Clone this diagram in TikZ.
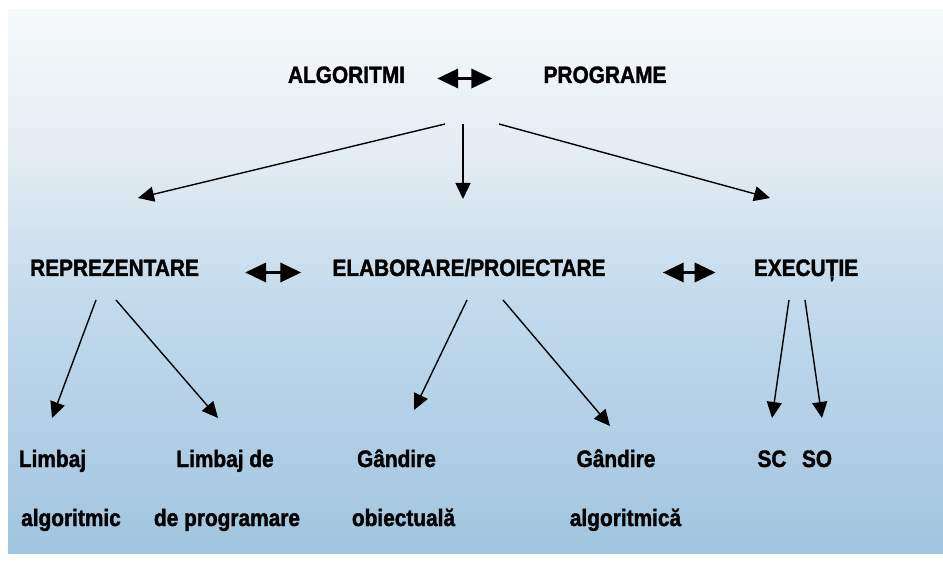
\documentclass[tikz,border=0pt]{standalone}
\usepackage{fontspec}
\setmainfont{Liberation Sans}[FakeStretch=0.88, BoldFeatures={FakeBold=1.5}]
\usetikzlibrary{arrows.meta}
\definecolor{bgA}{HTML}{F6F9FA}
\definecolor{bgB}{HTML}{E4EDF3}
\definecolor{bgC}{HTML}{C3DAEC}
\definecolor{bgD}{HTML}{A0C5DF}
\begin{document}
\begin{tikzpicture}[x=1pt,y=-1pt,
  lbl/.style={anchor=base, inner sep=0pt, font=\fontsize{23.7}{28}\selectfont\bfseries},
  arr/.style={line width=1.4pt, -{Triangle[length=16pt 0 0,width=15pt 0 0]}},
  dbl/.style={line width=3.5pt, {Triangle[length=21pt 0 0,width=19pt 0 0]}-{Triangle[length=21pt 0 0,width=19pt 0 0]}}]
\useasboundingbox (0,0) rectangle (943,561);
\fill[white] (0,0) rectangle (943,561);
% background gradient
\shade[top color=bgA, bottom color=bgB] (8,10) rectangle (943,150.5);
\shade[top color=bgB, bottom color=bgC] (8,150) rectangle (943,300.5);
\shade[top color=bgC, bottom color=bgD] (8,300) rectangle (943,553);

% row 1
\node[lbl] (alg) at (346.5,83) {ALGORITMI};
\node[lbl] (prog) at (605,83) {PROGRAME};
% row 2
\node[lbl] (rep) at (114.5,276) {REPREZENTARE};
\node[lbl] (ela) at (469,276) {ELABORARE/PROIECTARE};
\node[lbl] (exe) at (806,276) {EXECUȚIE};
% row 3 / 4
\node[lbl] (la1) at (52.5,467) {Limbaj};
\node[lbl] (la2) at (71,526) {algoritmic};
\node[lbl] (lp1) at (225,467) {Limbaj de};
\node[lbl] (lp2) at (227,526) {de programare};
\node[lbl] (go1) at (396.5,467) {Gândire};
\node[lbl] (go2) at (403.5,526) {obiectuală};
\node[lbl] (ga1) at (616,467) {Gândire};
\node[lbl] (ga2) at (625.5,526) {algoritmică};
\node[lbl] (sc) at (772,467) {SC};
\node[lbl] (so) at (817,467) {SO};

% double arrows
\draw[dbl, shorten <=32pt, shorten >=51pt] ([yshift=4.5pt]alg.base east) -- ([yshift=4.5pt]prog.base west);
\draw[dbl, shorten <=46pt, shorten >=31pt] ([yshift=3.5pt]rep.base east) -- ([yshift=3.5pt]ela.base west);
\draw[dbl, shorten <=57pt, shorten >=38pt] ([yshift=3.5pt]ela.base east) -- ([yshift=3.5pt]exe.base west);

% fan from top
\coordinate (s1) at (445,124); \coordinate (e1) at (138,198);
\coordinate (s2) at (463,124); \coordinate (e2) at (463,199);
\coordinate (s3) at (499,124); \coordinate (e3) at (770,198);
\draw[arr] (s1) -- (e1);
\draw[arr] (s2) -- (e2);
\draw[arr] (s3) -- (e3);

% from REPREZENTARE
\coordinate (r1) at (96,300); \coordinate (r1e) at (52,418);
\coordinate (r2) at (116,300); \coordinate (r2e) at (218,418);
\draw[arr] (r1) -- (r1e);
\draw[arr] (r2) -- (r2e);
% from ELABORARE
\coordinate (p1) at (467,300); \coordinate (p1e) at (414,410);
\coordinate (p2) at (503,300); \coordinate (p2e) at (610,426);
\draw[arr] (p1) -- (p1e);
\draw[arr] (p2) -- (p2e);
% from EXECUTIE
\coordinate (x1) at (789,300); \coordinate (x1e) at (772,418);
\coordinate (x2) at (805,300); \coordinate (x2e) at (822,418);
\draw[arr] (x1) -- (x1e);
\draw[arr] (x2) -- (x2e);
\end{tikzpicture}
\end{document}
